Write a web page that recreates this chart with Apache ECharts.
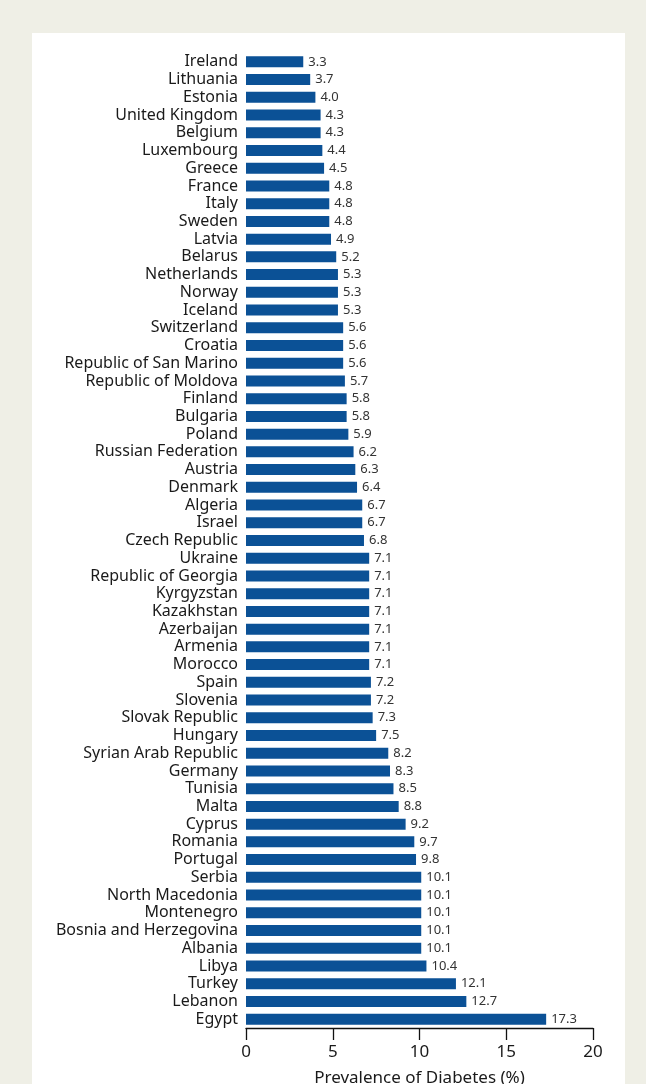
<!DOCTYPE html>
<html>
<head>
<meta charset="utf-8">
<script src="https://cdn.jsdelivr.net/npm/echarts@6/dist/echarts.min.js"></script>
<style>
html,body{margin:0;padding:0;background:#efefe6;width:646px;height:1084px;overflow:hidden;}
#panel{position:absolute;left:32px;top:33px;width:593px;height:1051px;background:#ffffff;}
#chart{position:absolute;left:0;top:0;width:646px;height:1084px;}
</style>
</head>
<body>
<div id="panel"></div>
<div id="chart"></div>
<script>
const countries = ["Ireland","Lithuania","Estonia","United Kingdom","Belgium","Luxembourg","Greece","France","Italy","Sweden","Latvia","Belarus","Netherlands","Norway","Iceland","Switzerland","Croatia","Republic of San Marino","Republic of Moldova","Finland","Bulgaria","Poland","Russian Federation","Austria","Denmark","Algeria","Israel","Czech Republic","Ukraine","Republic of Georgia","Kyrgyzstan","Kazakhstan","Azerbaijan","Armenia","Morocco","Spain","Slovenia","Slovak Republic","Hungary","Syrian Arab Republic","Germany","Tunisia","Malta","Cyprus","Romania","Portugal","Serbia","North Macedonia","Montenegro","Bosnia and Herzegovina","Albania","Libya","Turkey","Lebanon","Egypt"];
const prevalence = [3.3,3.7,4.0,4.3,4.3,4.4,4.5,4.8,4.8,4.8,4.9,5.2,5.3,5.3,5.3,5.6,5.6,5.6,5.7,5.8,5.8,5.9,6.2,6.3,6.4,6.7,6.7,6.8,7.1,7.1,7.1,7.1,7.1,7.1,7.1,7.2,7.2,7.3,7.5,8.2,8.3,8.5,8.8,9.2,9.7,9.8,10.1,10.1,10.1,10.1,10.1,10.4,12.1,12.7,17.3];
const xTicks = [0,5,10,15,20];
const xTitle = "Prevalence of Diabetes (%)";

const chart = echarts.init(document.getElementById('chart'), null, {renderer:'canvas', width:646, height:1084});
chart.setOption({
  backgroundColor:'transparent',
  animation:false,
  grid:{left:246, width:347, top:53, height:975, containLabel:false, outerBoundsMode:'none'},
  xAxis:{
    type:'value', min:xTicks[0], max:xTicks[xTicks.length-1], interval:5,
    name:xTitle, nameLocation:'middle', nameGap:42,
    nameTextStyle:{fontFamily:'Noto Sans', fontSize:17, color:'#1a1a1a'},
    axisLine:{show:true, lineStyle:{color:'#111', width:1.3}},
    axisTick:{show:true, inside:false, length:12, lineStyle:{color:'#111', width:1.3}},
    axisLabel:{fontFamily:'Noto Sans', fontSize:17, color:'#1a1a1a', margin:16},
    splitLine:{show:false}
  },
  yAxis:{
    type:'category', data:countries, inverse:true,
    axisLine:{show:false}, axisTick:{show:false},
    axisLabel:{fontFamily:'Noto Sans', fontSize:16, color:'#1a1a1a', margin:8, interval:0}
  },
  series:[{
    type:'bar', data:prevalence, barWidth:11,
    itemStyle:{color:'#0b5196'},
    label:{show:true, position:'right', distance:5, fontFamily:'Noto Sans', fontSize:13, color:'#333',
      formatter:p=>p.value.toFixed(1)}
  }]
});
</script>
</body>
</html>
